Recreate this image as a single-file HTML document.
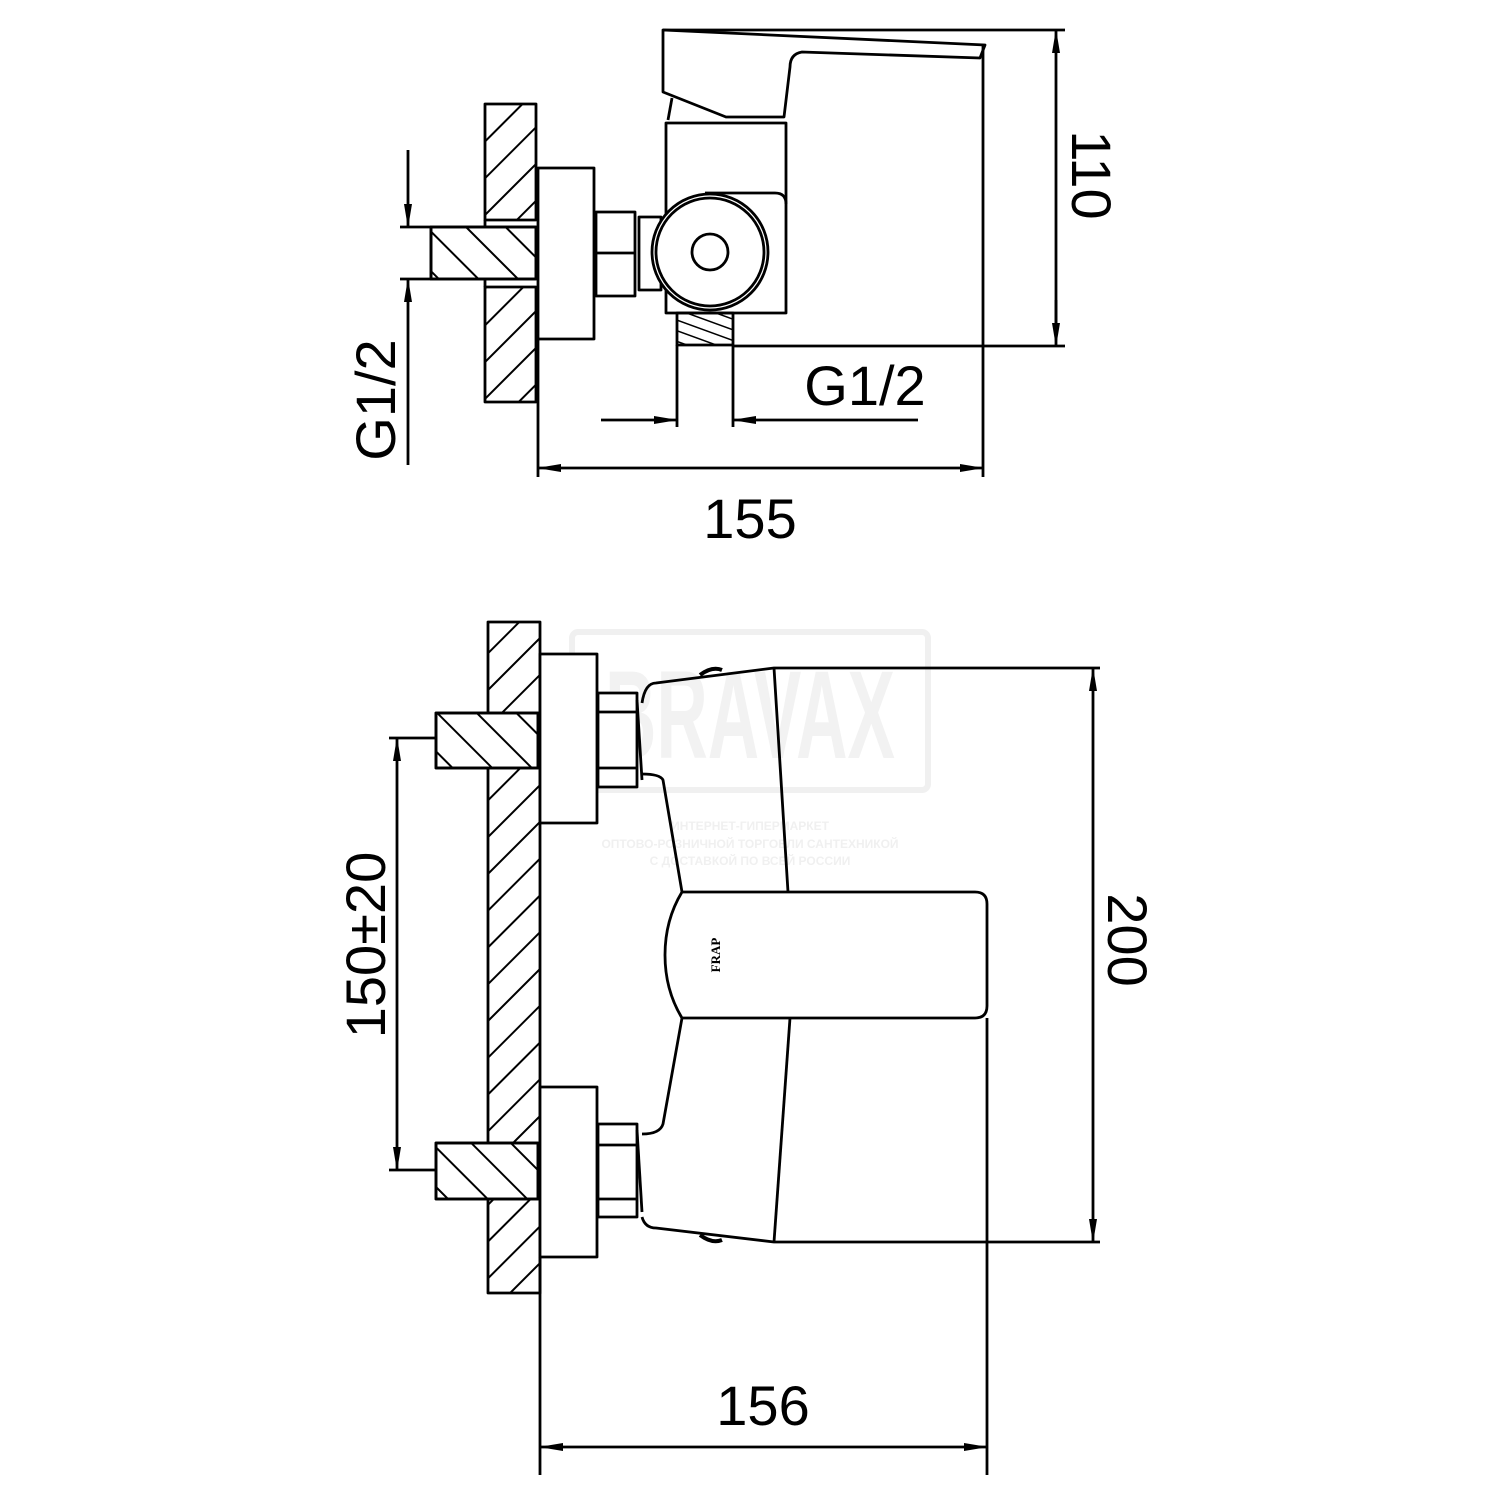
<!DOCTYPE html>
<html><head><meta charset="utf-8"><style>html,body{margin:0;padding:0;background:#fff}svg{display:block}</style></head>
<body>
<svg width="1500" height="1500" viewBox="0 0 1500 1500" xmlns="http://www.w3.org/2000/svg">
<defs>
<pattern id="hf" patternUnits="userSpaceOnUse" width="26" height="26" patternTransform="rotate(45)">
<line x1="0" y1="0" x2="0" y2="26" stroke="#000" stroke-width="4"/></pattern>
<pattern id="hb" patternUnits="userSpaceOnUse" width="28" height="28" patternTransform="rotate(-45)">
<line x1="0" y1="0" x2="0" y2="28" stroke="#000" stroke-width="4"/></pattern>
<pattern id="hs" patternUnits="userSpaceOnUse" width="10" height="10" patternTransform="rotate(-70)">
<line x1="0" y1="0" x2="0" y2="10" stroke="#000" stroke-width="3"/></pattern>
<marker id="a" markerWidth="24" markerHeight="10" refX="23" refY="5" orient="auto" markerUnits="userSpaceOnUse">
<path d="M0,1 L24,5 L0,9 Z" fill="#000"/></marker>
</defs>

<!-- watermark -->
<rect x="572" y="632" width="356" height="158" rx="6" fill="none" stroke="#f0f0f0" stroke-width="6"/>
<text x="605" y="758" font-family="Liberation Sans, sans-serif" font-weight="bold" font-size="125" fill="#f2f2f2" textLength="290" lengthAdjust="spacingAndGlyphs">BRAVAX</text>
<g font-family="Liberation Sans, sans-serif" font-size="12" fill="#f0f0f0" text-anchor="middle" font-weight="bold">
<text x="750" y="830">ИНТЕРНЕТ-ГИПЕРМАРКЕТ</text>
<text x="750" y="848">ОПТОВО-РОЗНИЧНОЙ ТОРГОВЛИ САНТЕХНИКОЙ</text>
<text x="750" y="865">С ДОСТАВКОЙ ПО ВСЕЙ РОССИИ</text></g>

<g stroke="#000" stroke-width="2.8" fill="none" stroke-linejoin="round">
<!-- ===== TOP VIEW ===== -->
<rect x="485" y="104" width="51" height="116" fill="url(#hf)"/>
<rect x="485" y="287" width="51" height="115" fill="url(#hf)"/>
<line x1="485" y1="220" x2="485" y2="287"/>
<rect x="431" y="227" width="105" height="52" fill="#fff"/>
<rect x="431" y="227" width="105" height="52" fill="url(#hb)"/>
<line x1="400" y1="227" x2="431" y2="227"/><line x1="400" y1="279" x2="431" y2="279"/>
<rect x="538" y="168" width="56" height="171" fill="#fff"/>
<rect x="596" y="212" width="39" height="84" fill="#fff"/><line x1="596" y1="253" x2="635" y2="253"/>
<rect x="639" y="217" width="22" height="73" fill="#fff"/>
<path d="M666 123 L786 123 L786 313 L666 313 Z" fill="#fff"/>
<path d="M705 193 L775 193 Q786 193 786 204"/>
<circle cx="710" cy="252" r="58" fill="#fff"/><circle cx="710" cy="252" r="54"/>
<circle cx="710" cy="252" r="18"/>
<path d="M663 30 L985 45 L980 58 L802 52 Q790 54 790 67 L784 117 L726 117 L663 92 Z" fill="#fff"/>
<line x1="672" y1="98" x2="668" y2="120"/>
<rect x="677" y="313" width="56" height="32" fill="url(#hs)"/>
<line x1="677" y1="345" x2="677" y2="427"/><line x1="733" y1="345" x2="733" y2="427"/>
<line x1="733" y1="346" x2="1065" y2="346"/><line x1="663" y1="30" x2="1065" y2="30"/>
<line x1="983" y1="45" x2="983" y2="477"/><line x1="538" y1="339" x2="538" y2="477"/>
<line x1="1056" y1="40" x2="1056" y2="30" marker-end="url(#a)"/><line x1="1056" y1="40" x2="1056" y2="336"/><line x1="1056" y1="300" x2="1056" y2="346" marker-end="url(#a)"/>
<line x1="601" y1="420" x2="677" y2="420" marker-end="url(#a)"/>
<line x1="918" y1="420" x2="733" y2="420" marker-end="url(#a)"/>
<line x1="560" y1="468" x2="538" y2="468" marker-end="url(#a)"/><line x1="560" y1="468" x2="960" y2="468"/><line x1="960" y1="468" x2="983" y2="468" marker-end="url(#a)"/>
<line x1="408" y1="150" x2="408" y2="227" marker-end="url(#a)"/>
<line x1="408" y1="465" x2="408" y2="279" marker-end="url(#a)"/>

<!-- ===== BOTTOM VIEW ===== -->
<rect x="488" y="622" width="52" height="671" fill="url(#hf)"/>
<rect x="436" y="713" width="102" height="55" fill="#fff"/>
<rect x="436" y="713" width="102" height="55" fill="url(#hb)"/>
<rect x="436" y="1143" width="102" height="56" fill="#fff"/>
<rect x="436" y="1143" width="102" height="56" fill="url(#hb)"/>
<rect x="540" y="654" width="57" height="169" fill="#fff"/>
<rect x="540" y="1087" width="57" height="170" fill="#fff"/>
<path d="M642 703 Q645 683 656 683 L774 668 L1100 668"/>
<path d="M700 675 Q712 666 722 670" stroke-width="4"/>
<path d="M642 774 Q660 774 663 780 L682 892"/>
<line x1="774" y1="668" x2="788" y2="892"/>
<path d="M682 892 L975 892 Q987 892 987 904 L987 1006 Q987 1018 975 1018 L682 1018 Q665 990 665 955 Q665 920 682 892 Z" fill="#fff"/>
<path d="M682 1018 L663 1124 Q660 1134 642 1134"/>
<line x1="790" y1="1018" x2="774" y2="1242"/>
<path d="M642 1217 Q645 1228 656 1228 L774 1242 L1100 1242"/>
<path d="M700 1235 Q712 1244 722 1240" stroke-width="4"/>
<rect x="598" y="693" width="39" height="94" fill="#fff"/><line x1="598" y1="712" x2="637" y2="712"/><line x1="598" y1="768" x2="637" y2="768"/>
<rect x="598" y="1124" width="39" height="93" fill="#fff"/><line x1="598" y1="1145" x2="637" y2="1145"/><line x1="598" y1="1199" x2="637" y2="1199"/>
<line x1="637" y1="700" x2="642" y2="780"/><line x1="637" y1="1130" x2="642" y2="1212"/>
<line x1="987" y1="1018" x2="987" y2="1475"/><line x1="540" y1="1257" x2="540" y2="1475"/>
<line x1="1093" y1="700" x2="1093" y2="668" marker-end="url(#a)"/><line x1="1093" y1="700" x2="1093" y2="1210"/><line x1="1093" y1="1210" x2="1093" y2="1242" marker-end="url(#a)"/>
<line x1="389" y1="738" x2="436" y2="738"/><line x1="389" y1="1170" x2="436" y2="1170"/>
<line x1="397" y1="770" x2="397" y2="738" marker-end="url(#a)"/><line x1="397" y1="770" x2="397" y2="1140"/><line x1="397" y1="1140" x2="397" y2="1170" marker-end="url(#a)"/>
<line x1="565" y1="1447" x2="540" y2="1447" marker-end="url(#a)"/><line x1="565" y1="1447" x2="962" y2="1447"/><line x1="962" y1="1447" x2="987" y2="1447" marker-end="url(#a)"/>
</g>
<text transform="translate(720,955) rotate(-90)" font-family="Liberation Serif, serif" font-size="13" font-weight="bold" text-anchor="middle">FRAP</text>

<g font-family="Liberation Sans, sans-serif" font-size="56" fill="#000" text-anchor="middle">
<text x="750" y="538">155</text>
<text x="865" y="405">G1/2</text>
<text transform="translate(1072,175) rotate(90)">110</text>
<text transform="translate(395,400) rotate(-90)">G1/2</text>
<text x="763" y="1425">156</text>
<text transform="translate(1108,940) rotate(90)">200</text>
<text transform="translate(385,945) rotate(-90)">150±20</text>
</g>
</svg>
</body></html>
